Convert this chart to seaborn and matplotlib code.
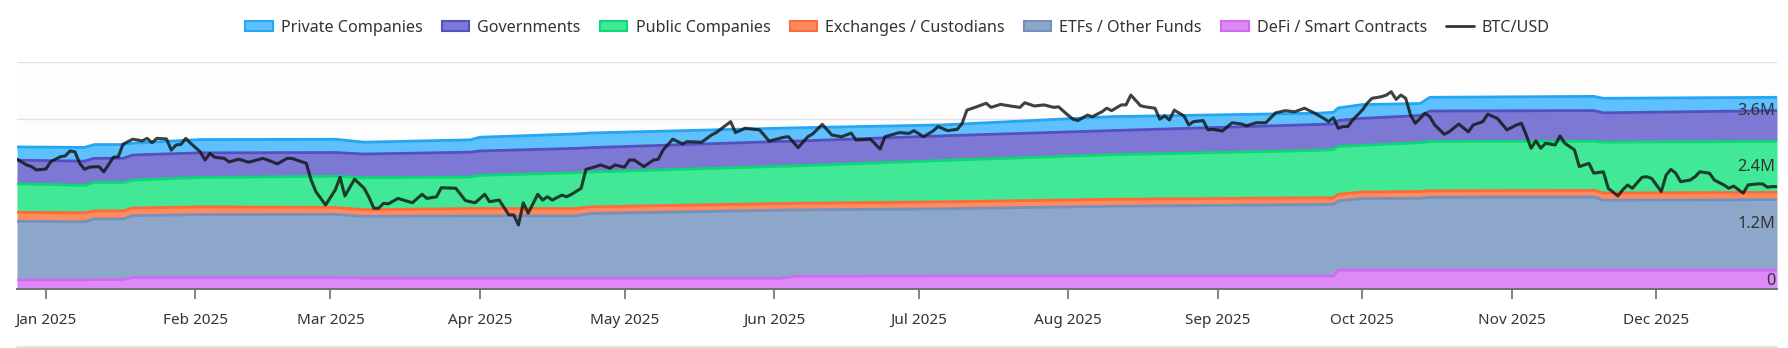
import numpy as np
import pandas as pd
import matplotlib
matplotlib.use("Agg")
import matplotlib.pyplot as plt
import matplotlib.dates as mdates
from matplotlib.patches import Patch
from matplotlib.lines import Line2D
import seaborn as sns

# ---------------- data ----------------
holding_dates = ["2024-12-26", "2025-01-09", "2025-01-11", "2025-01-17", "2025-01-19",
                 "2025-02-02", "2025-03-02", "2025-03-08", "2025-03-30", "2025-04-01",
                 "2025-04-21", "2025-04-24", "2025-06-02", "2025-06-06", "2025-07-06",
                 "2025-08-10", "2025-09-22", "2025-09-25", "2025-09-26", "2025-10-01",
                 "2025-10-13", "2025-10-15", "2025-11-18", "2025-11-20", "2025-12-26"]
# holdings in millions of BTC (stack order bottom -> top)
defi        = [.19, .19, .20, .20, .24, .24, .24, .23, .225, .225, .225, .225, .225, .27, .274,
               .274, .274, .274, .40, .40, .40, .40, .40, .40, .40]
etfs        = [1.24, 1.23, 1.28, 1.28, 1.31, 1.33, 1.335, 1.305, 1.32, 1.32, 1.32, 1.37, 1.44, 1.40,
               1.42, 1.473, 1.51, 1.515, 1.46, 1.51, 1.516, 1.537, 1.543, 1.474, 1.488]
exchanges   = [.19, .19, .17, .17, .16, .165, .147, .14, .155, .155, .155, .14, .14, .14, .147,
               .148, .143, .137, .14, .14, .143, .137, .141, .153, .154]
public_cos  = [.60, .58, .60, .60, .59, .62, .66, .675, .665, .70, .755, .735, .785, .79, .874,
               .94, 1.0, 1.02, 1.01, .984, 1.03, 1.042, 1.038, 1.074, 1.074]
governments = [.50, .51, .51, .51, .53, .52, .50, .50, .525, .515, .515, .515, .525, .525, .52,
               .51, .548, .54, .547, .57, .575, .642, .646, .619, .652]
private_cos = [.28, .29, .29, .29, .25, .28, .28, .25, .26, .29, .305, .31, .28, .28, .23,
               .295, .238, .245, .267, .29, .253, .29, .30, .307, .28]

btc_dates = ["2024-12-26", "2024-12-28", "2024-12-29", "2024-12-30", "2025-01-01", "2025-01-02",
             "2025-01-04", "2025-01-05", "2025-01-06", "2025-01-07", "2025-01-08", "2025-01-09",
             "2025-01-10", "2025-01-12", "2025-01-13", "2025-01-15", "2025-01-16", "2025-01-17",
             "2025-01-19", "2025-01-21", "2025-01-22", "2025-01-23", "2025-01-24", "2025-01-26",
             "2025-01-27", "2025-01-28", "2025-01-29", "2025-01-30", "2025-01-31", "2025-02-02",
             "2025-02-03", "2025-02-04", "2025-02-05", "2025-02-07", "2025-02-08", "2025-02-10",
             "2025-02-12", "2025-02-15", "2025-02-16", "2025-02-18", "2025-02-20", "2025-02-21",
             "2025-02-24", "2025-02-25", "2025-02-26", "2025-02-28", "2025-03-02", "2025-03-03",
             "2025-03-04", "2025-03-06", "2025-03-08", "2025-03-09", "2025-03-10", "2025-03-11",
             "2025-03-12", "2025-03-13", "2025-03-15", "2025-03-18", "2025-03-20", "2025-03-21",
             "2025-03-23", "2025-03-24", "2025-03-27", "2025-03-29", "2025-03-31", "2025-04-02",
             "2025-04-03", "2025-04-05", "2025-04-07", "2025-04-08", "2025-04-09", "2025-04-10",
             "2025-04-11", "2025-04-13", "2025-04-14", "2025-04-15", "2025-04-16", "2025-04-18",
             "2025-04-19", "2025-04-20", "2025-04-22", "2025-04-23", "2025-04-25", "2025-04-26",
             "2025-04-28", "2025-04-29", "2025-05-01", "2025-05-02", "2025-05-03", "2025-05-05",
             "2025-05-07", "2025-05-08", "2025-05-09", "2025-05-11", "2025-05-13", "2025-05-14",
             "2025-05-17", "2025-05-19", "2025-05-20", "2025-05-23", "2025-05-24", "2025-05-26",
             "2025-05-29", "2025-05-31", "2025-06-03", "2025-06-04", "2025-06-06", "2025-06-08",
             "2025-06-09", "2025-06-11", "2025-06-13", "2025-06-15", "2025-06-17", "2025-06-18",
             "2025-06-21", "2025-06-23", "2025-06-24", "2025-06-27", "2025-06-29", "2025-06-30",
             "2025-07-02", "2025-07-04", "2025-07-05", "2025-07-07", "2025-07-09", "2025-07-10",
             "2025-07-11", "2025-07-13", "2025-07-15", "2025-07-16", "2025-07-18", "2025-07-20",
             "2025-07-22", "2025-07-23", "2025-07-25", "2025-07-27", "2025-07-29", "2025-07-30",
             "2025-08-01", "2025-08-02", "2025-08-03", "2025-08-05", "2025-08-06", "2025-08-08",
             "2025-08-09", "2025-08-10", "2025-08-12", "2025-08-13", "2025-08-14", "2025-08-16",
             "2025-08-17", "2025-08-19", "2025-08-20", "2025-08-21", "2025-08-22", "2025-08-23",
             "2025-08-25", "2025-08-26", "2025-08-27", "2025-08-29", "2025-08-30", "2025-08-31",
             "2025-09-02", "2025-09-04", "2025-09-06", "2025-09-07", "2025-09-09", "2025-09-11",
             "2025-09-13", "2025-09-15", "2025-09-17", "2025-09-19", "2025-09-21", "2025-09-23",
             "2025-09-24", "2025-09-25", "2025-09-26", "2025-09-27", "2025-09-28", "2025-09-29",
             "2025-09-30", "2025-10-01", "2025-10-02", "2025-10-03", "2025-10-05", "2025-10-06",
             "2025-10-07", "2025-10-08", "2025-10-09", "2025-10-10", "2025-10-11", "2025-10-12",
             "2025-10-14", "2025-10-15", "2025-10-16", "2025-10-18", "2025-10-19", "2025-10-21",
             "2025-10-23", "2025-10-24", "2025-10-26", "2025-10-27", "2025-10-29", "2025-10-31",
             "2025-11-02", "2025-11-03", "2025-11-04", "2025-11-05", "2025-11-06", "2025-11-07",
             "2025-11-08", "2025-11-10", "2025-11-11", "2025-11-12", "2025-11-14", "2025-11-15",
             "2025-11-17", "2025-11-18", "2025-11-20", "2025-11-21", "2025-11-23", "2025-11-24",
             "2025-11-25", "2025-11-26", "2025-11-28", "2025-11-29", "2025-11-30", "2025-12-02",
             "2025-12-03", "2025-12-04", "2025-12-05", "2025-12-06", "2025-12-08", "2025-12-09",
             "2025-12-10", "2025-12-12", "2025-12-13", "2025-12-15", "2025-12-16", "2025-12-17",
             "2025-12-19", "2025-12-20", "2025-12-22", "2025-12-23", "2025-12-24", "2025-12-25",
             "2025-12-26"]
# BTC/USD close, thousands of USD
btc_price = [100.0, 97.9, 97.3, 96.1, 96.4, 99.1, 100.9, 101.2, 103.0, 102.7, 98.5, 96.3,
             97.1, 97.3, 95.4, 100.7, 100.9, 105.5, 107.3, 106.7, 107.6, 106.0, 107.6, 107.4,
             103.3, 105.2, 105.4, 107.6, 105.8, 102.7, 99.7, 102.1, 100.7, 100.3, 99.0, 100.0,
             98.9, 100.3, 99.7, 98.3, 100.3, 100.3, 98.5, 92.4, 88.1, 83.3, 88.8, 93.4,
             86.6, 92.7, 89.4, 86.1, 82.1, 82.1, 83.9, 83.7, 85.7, 84.1, 87.2, 85.7,
             86.3, 89.6, 89.4, 84.9, 84.1, 87.2, 84.5, 85.1, 79.7, 79.7, 76.0, 84.1,
             80.3, 87.2, 85.1, 86.3, 85.1, 86.9, 86.3, 87.2, 89.4, 96.3, 97.3, 97.9,
             96.7, 97.9, 97.1, 99.7, 99.7, 97.3, 99.7, 100.0, 103.4, 107.3, 105.6, 106.4,
             106.2, 108.8, 109.7, 113.7, 109.7, 111.3, 110.7, 106.6, 108.0, 108.2, 104.2, 108.2,
             109.2, 112.7, 108.8, 108.2, 109.5, 107.0, 107.3, 103.7, 108.2, 109.7, 109.4, 110.4,
             108.2, 110.3, 111.9, 110.4, 110.9, 113.0, 117.9, 119.1, 120.4, 118.9, 120.0, 119.4,
             118.9, 120.6, 119.4, 119.8, 118.9, 119.1, 116.0, 114.6, 114.1, 116.1, 115.5, 117.3,
             118.6, 117.7, 119.8, 119.8, 123.4, 119.5, 119.1, 118.6, 114.6, 115.8, 114.3, 117.9,
             115.8, 112.5, 113.7, 114.1, 110.7, 110.9, 110.3, 113.3, 112.8, 112.2, 113.3, 113.3,
             116.9, 117.7, 117.3, 118.6, 116.9, 114.9, 113.7, 115.1, 111.3, 111.9, 111.9, 114.3,
             116.1, 117.9, 120.4, 122.2, 122.8, 123.4, 124.6, 121.8, 123.4, 122.2, 116.1, 113.1,
             116.7, 115.5, 112.5, 109.1, 110.0, 112.8, 110.0, 112.5, 113.7, 116.4, 114.9, 110.7,
             112.5, 113.1, 108.8, 104.0, 106.7, 104.0, 105.8, 105.2, 108.5, 105.8, 103.4, 97.3,
             98.5, 94.9, 95.4, 89.4, 86.6, 88.8, 90.6, 89.4, 93.4, 93.6, 93.0, 88.2,
             94.2, 96.3, 94.9, 91.8, 92.4, 93.6, 95.4, 94.9, 92.4, 90.6, 89.4, 90.2,
             87.6, 90.6, 91.0, 91.0, 89.8, 90.0, 90.0]

series_names = ["DeFi / Smart Contracts", "ETFs / Other Funds", "Exchanges / Custodians",
                "Public Companies", "Governments", "Private Companies"]
legend_order = ["Private Companies", "Governments", "Public Companies",
                "Exchanges / Custodians", "ETFs / Other Funds", "DeFi / Smart Contracts"]
y_ticks = [0, 1.2, 2.4, 3.6, 4.8]
y_tick_labels = ["0", "1.2M", "2.4M", "3.6M", ""]

# ---------------- style ----------------
fills = {"Private Companies": "#5ec0fd", "Governments": "#7c78d3", "Public Companies": "#41e896",
         "Exchanges / Custodians": "#ff8a5e", "ETFs / Other Funds": "#8da7cb",
         "DeFi / Smart Contracts": "#de89f8"}
edges = {"Private Companies": "#23a6f4", "Governments": "#5450bf", "Public Companies": "#0cd874",
         "Exchanges / Custodians": "#ff6a3a", "ETFs / Other Funds": "#7490bd",
         "DeFi / Smart Contracts": "#d06af2"}

sns.set_theme(style="white")
plt.rcParams["font.family"] = ["Noto Sans", "DejaVu Sans"]

fig = plt.figure(figsize=(17.88, 3.48), dpi=100)
ax = fig.add_axes([17 / 1788, 1 - 289 / 348, 1760 / 1788, (289 - 61.7) / 348])
ax.set_facecolor("#fdfdfd")

hd = pd.to_datetime(holding_dates)
layers = [defi, etfs, exchanges, public_cos, governments, private_cos]
ax.stackplot(hd, *layers, colors=[fills[n] for n in series_names], linewidth=0, zorder=2)
cum = np.cumsum(np.array(layers), axis=0)
for name, c in zip(series_names, cum):
    sns.lineplot(x=hd, y=c, ax=ax, color=edges[name], linewidth=2.0, zorder=3, legend=False)

xmin, xmax = pd.Timestamp("2024-12-26"), pd.Timestamp("2025-12-26")
ax.set_ylim(0, 4.8)
ax.set_xlim(xmin, xmax)
ax.set_yticks(y_ticks)
ax.tick_params(axis="y", left=False, right=False, labelleft=False, labelright=False, length=0)
ax.grid(axis="y", color="#e0e0e6", linewidth=1.0, zorder=0)
ax.grid(axis="x", visible=False)
ax.set_axisbelow(True)

ax.xaxis.set_major_locator(mdates.MonthLocator())
ax.xaxis.set_major_formatter(mdates.DateFormatter("%b %Y"))
ax.tick_params(axis="x", direction="out", length=7, width=1.2, color="#6e7079",
               labelsize=11, labelcolor="#333333", pad=10, bottom=True)
for s in ["top", "left", "right"]:
    ax.spines[s].set_visible(False)
ax.spines["bottom"].set_color("#6e7079")
ax.spines["bottom"].set_linewidth(1.4)
ax.spines["bottom"].set_zorder(5)
ax.set_xlabel("")
ax.set_ylabel("")

# value-axis labels inside the plot, at its right edge
for v, lab in zip(y_ticks, y_tick_labels):
    if lab:
        ax.annotate(lab, xy=(1.0, v), xycoords=ax.get_yaxis_transform(), xytext=(-1, 0),
                    textcoords="offset points", ha="right", va="bottom", fontsize=11.8,
                    color="#333333", zorder=10)

ax2 = ax.twinx()
bd = pd.to_datetime(btc_dates)
sns.lineplot(x=bd, y=btc_price, ax=ax2, color="#111111", alpha=0.8, linewidth=2.2, legend=False)
ax2.set_ylim(52.66, 135.56)
ax2.set_yticks([])
ax2.set_ylabel("")
for s in ax2.spines.values():
    s.set_visible(False)
ax2.set_xlim(xmin, xmax)
ax.tick_params(axis="y", left=False, right=False, labelleft=False, labelright=False)

handles = [Patch(facecolor=fills[n], edgecolor=edges[n], linewidth=1.5) for n in legend_order]
handles.append(Line2D([0], [0], color="#333333", linewidth=2))
labels = legend_order + ["BTC/USD"]
fig.legend(handles, labels, loc="center", bbox_to_anchor=(0.502, 0.92), ncol=7, frameon=False,
           fontsize=11.6, handlelength=1.7, handleheight=0.6, handletextpad=0.5,
           columnspacing=1.2, labelcolor="#333333")

fig.add_artist(Line2D([17 / 1788, 1777 / 1788], [0.003, 0.003], color="#dcdcdc", linewidth=1.2))

fig.savefig("out.png", dpi=100)
